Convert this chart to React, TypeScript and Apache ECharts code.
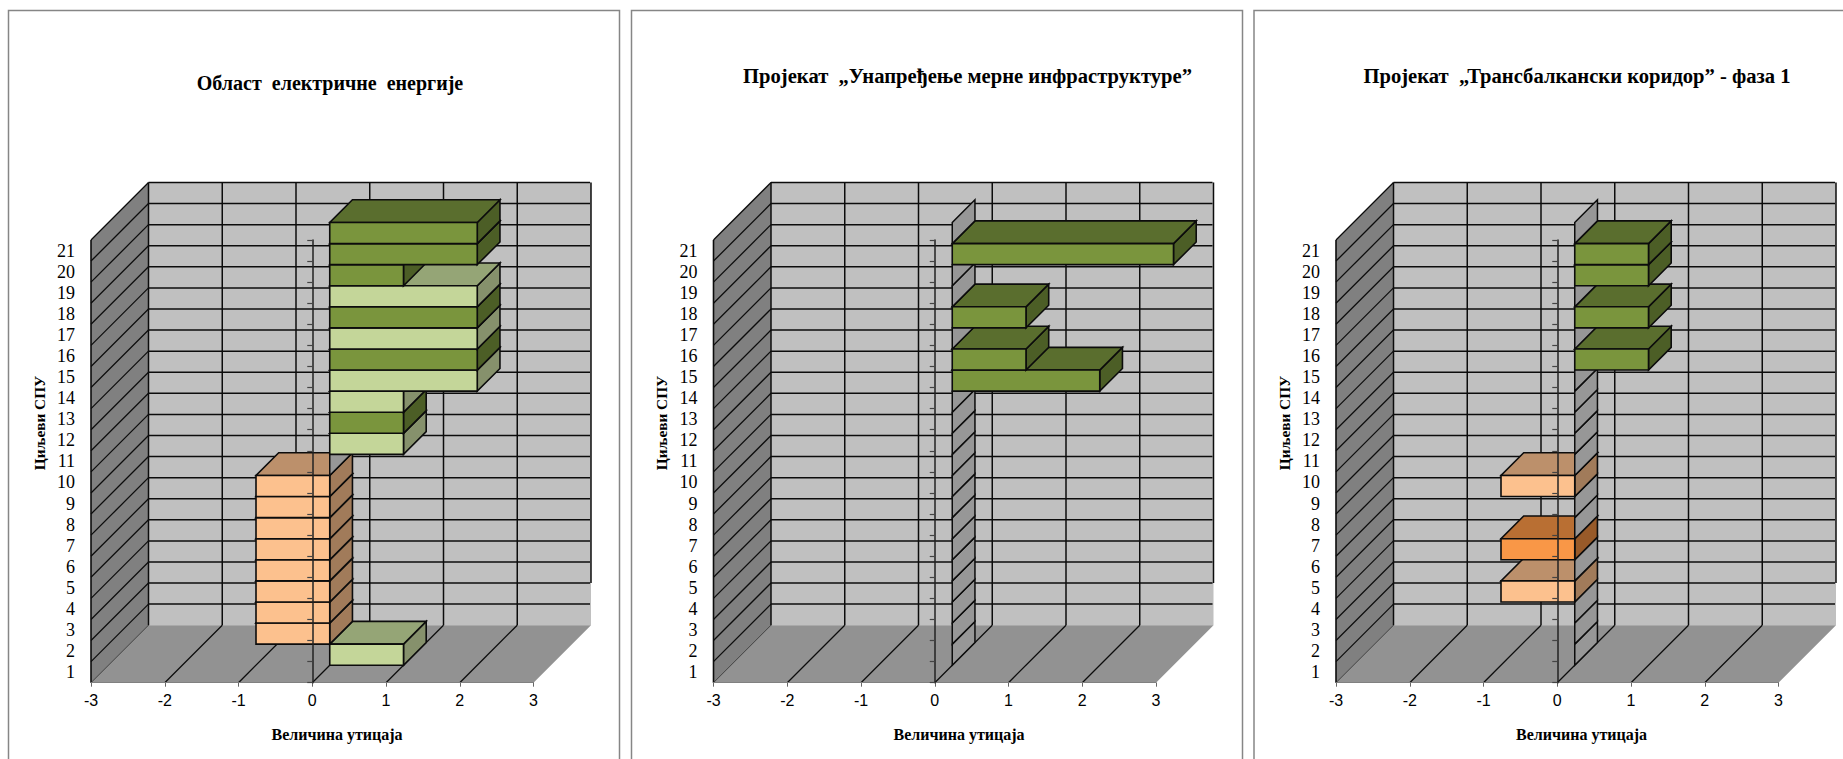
import React, { useEffect, useRef } from "react";
import * as echarts from "echarts";

// Category labels of the vertical axis, bottom to top.
const categories = ["1","2","3","4","5","6","7","8","9","10","11","12","13","14","15","16","17","18","19","20","21"];
const xTicks = [-3, -2, -1, 0, 1, 2, 3];

const panelTitles = [
  "Област  електричне  енергије",
  "Пројекат  „Унапређење мерне инфраструктуре”",
  "Пројекат  „Трансбалкански коридор” - фаза 1",
];
const xAxisTitle = "Величина утицаја";
const yAxisTitle = "Циљеви СПУ";

// Impact per goal, goal 1 first.
const electricityValues = [1,-1,-1,-1,-1,-1,-1,-1,-1,0,1,1,1,2,2,2,2,2,1,2,2];
const meteringValues    = [0,0,0,0,0,0,0,0,0,0,0,0,0,2,1,0,1,0,0,3,0];
const corridorValues    = [0,0,0,-1,0,-1,0,0,-1,0,0,0,0,0,1,0,1,0,1,1,0];

// Shade of each bar: d dark green, l light green, o light orange, s strong orange, z no impact.
const electricityTones = ["l","o","o","o","o","o","o","o","o","z","l","d","l","l","d","l","d","l","d","d","d"];
const meteringTones    = ["z","z","z","z","z","z","z","z","z","z","z","z","z","d","d","z","d","z","z","d","z"];
const corridorTones    = ["z","z","z","o","z","s","z","z","o","z","z","z","z","z","d","z","d","z","d","d","z"];

const PANELS = [
  { values: electricityValues, tones: electricityTones },
  { values: meteringValues, tones: meteringTones },
  { values: corridorValues, tones: corridorTones },
];

const SHADES: Record<string, { front: string; top: string; side: string }> = {
  d: { front: "#7a953d", top: "#5a6e2e", side: "#4c5e26" },
  l: { front: "#c4d699", top: "#95a576", side: "#86916c" },
  o: { front: "#fcc18e", top: "#bc906b", side: "#a17b5a" },
  s: { front: "#f99747", top: "#b96f33", side: "#985a29" },
};
const ZERO_FILL = "#979797";
const BACK_WALL = "#c0c0c0";
const SIDE_WALL = "#808080";
const FLOOR = "#929292";
const INK = "#0c0c0c";

// Oblique projection of the chart box, in pixels.
const WALL_DEPTH = 57.5;
const BAR_OFFSET = 17.5;
const BAR_DEPTH = 22.7;

const GRID_LEFTS = [91, 713.5, 1336];
const GRID_TOP = 240;
const GRID_W = 442.5;
const GRID_H = 442.7;
const FRAME_LEFTS = [8.5, 631.5, 1254];
const FRAME_RIGHTS = [619.5, 1242.5, 1870];
const TITLE_CENTERS = [330, 967.5, 1577];
const TITLE_Y = [84.5, 77.5, 77.5];
const TITLE_SIZES = [20, 20.6, 20.6];
const X_TITLE_CENTERS = [337, 959, 1581.5];

const edgeY = (api: any, i: number) => {
  const band = api.size([0, 1])[1];
  return api.coord([0, 0])[1] + band / 2 - i * band;
};

const line = (x1: number, y1: number, x2: number, y2: number, stroke = INK, lineWidth = 1.5) => ({
  type: "line",
  shape: { x1, y1, x2, y2 },
  style: { stroke, lineWidth },
  silent: true,
});

const poly = (points: number[][], fill: string, stroke?: string, lineWidth = 1.6) => ({
  type: "polygon",
  shape: { points },
  style: { fill, stroke: stroke ?? "none", lineWidth, lineJoin: "miter" },
  silent: true,
});

// Side wall, back wall, floor and their grid lines.
const renderBox = (_: any, api: any) => {
  const d = WALL_DEPTH;
  const yB = edgeY(api, 0);
  const yT = edgeY(api, categories.length);
  const xL = api.coord([xTicks[0], 0])[0];
  const xR = api.coord([xTicks[xTicks.length - 1], 0])[0];
  const children: any[] = [
    poly([[xL + d, yT - d], [xR + d, yT - d], [xR + d, yB - d], [xL + d, yB - d]], BACK_WALL),
    poly([[xL, yT], [xL + d, yT - d], [xL + d, yB - d], [xL, yB]], SIDE_WALL),
    poly([[xL, yB], [xR, yB], [xR + d, yB - d], [xL + d, yB - d]], FLOOR),
  ];
  for (let i = 1; i <= categories.length; i++) {
    const y = edgeY(api, i);
    children.push(line(xL + d, y - d, xR + d - 1, y - d));
    children.push(line(xL, y, xL + d, y - d, INK, 1.3));
  }
  xTicks.slice(0, -1).forEach((t) => {
    const x = api.coord([t, 0])[0];
    children.push(line(x + d, yT - d, x + d, yB - d));
    children.push(line(x, yB, x + d, yB - d, t === xTicks[0] ? "#3a3a3a" : INK, t === xTicks[0] ? 1 : 1.3));
  });
  children.push(line(xL, yT, xL, yB, INK, 1.6));
  children.push(line(xR + d, yT - d, xR + d, edgeY(api, 2) - d));
  return { type: "group", children };
};

// One block per goal; blocks with no impact show only their side face.
const makeBarRenderer = (tones: string[]) => (params: any, api: any) => {
  const value = api.value(0);
  const index = api.value(1);
  const o = BAR_OFFSET;
  const d = BAR_DEPTH;
  const x0 = api.coord([0, index])[0] + o;
  const xV = api.coord([value, index])[0] + o;
  const yB = edgeY(api, index) - o;
  const yT = edgeY(api, index + 1) - o;
  const xLeft = Math.min(x0, xV);
  const xRight = Math.max(x0, xV);
  const tone = tones[params.dataIndex];
  const side = [[xRight, yT], [xRight + d, yT - d], [xRight + d, yB - d], [xRight, yB]];
  if (tone === "z") {
    return { type: "group", children: [poly(side, ZERO_FILL, INK, 1.5)] };
  }
  const shade = SHADES[tone];
  return {
    type: "group",
    children: [
      poly(side, shade.side, INK),
      poly([[xLeft, yT], [xRight, yT], [xRight + d, yT - d], [xLeft + d, yT - d]], shade.top, INK),
      poly([[xLeft, yT], [xRight, yT], [xRight, yB], [xLeft, yB]], shade.front, INK),
    ],
  };
};

const buildOption = () => {
  const grid: any[] = [];
  const xAxis: any[] = [];
  const yAxis: any[] = [];
  const series: any[] = [];
  const title: any[] = [];
  const graphic: any[] = [];

  PANELS.forEach((panel, k) => {
    grid.push({ left: GRID_LEFTS[k], top: GRID_TOP, width: GRID_W, height: GRID_H, outerBoundsMode: "none", containLabel: false });
    xAxis.push({
      type: "value",
      gridIndex: k,
      min: xTicks[0],
      max: xTicks[xTicks.length - 1],
      interval: 1,
      z: 4,
      splitLine: { show: false },
      axisLine: { show: true, onZero: false, lineStyle: { color: "#808080", width: 1 } },
      axisTick: { show: true, length: 4, lineStyle: { color: "#666666" } },
      axisLabel: { show: true, margin: 10, color: "#000000", fontFamily: "Liberation Sans", fontSize: 16, showMinLabel: true, showMaxLabel: true, hideOverlap: false },
    });
    // Labelled axis along the side wall.
    yAxis.push({
      type: "category",
      gridIndex: k,
      data: categories,
      position: "left",
      boundaryGap: true,
      axisLine: { show: false, onZero: false },
      axisTick: { show: false },
      splitLine: { show: false },
      axisLabel: { show: true, interval: 0, margin: 16, color: "#000000", fontFamily: "Liberation Serif", fontSize: 18, hideOverlap: false },
    });
    // Tick line standing on zero, in front of the blocks.
    yAxis.push({
      type: "category",
      gridIndex: k,
      data: categories,
      position: "left",
      boundaryGap: true,
      z: 6,
      axisLine: { show: true, onZero: true, lineStyle: { color: "#222222", width: 1.5 } },
      axisTick: { show: true, interval: 0, length: 5, lineStyle: { color: "#444444", width: 1.2 } },
      axisLabel: { show: false },
      splitLine: { show: false },
    });
    series.push({
      type: "custom",
      xAxisIndex: k,
      yAxisIndex: 2 * k,
      z: 1,
      silent: true,
      encode: { x: 0, y: 1 },
      data: [[0, 0]],
      renderItem: renderBox,
    });
    series.push({
      type: "custom",
      xAxisIndex: k,
      yAxisIndex: 2 * k,
      z: 2,
      silent: true,
      encode: { x: 0, y: 1 },
      data: panel.values.map((v, i) => [v, i]),
      renderItem: makeBarRenderer(panel.tones),
    });

    title.push({
      text: panelTitles[k],
      left: TITLE_CENTERS[k],
      top: TITLE_Y[k] - 12,
      textAlign: "center",
      padding: 0,
      textStyle: { fontFamily: "Liberation Serif", fontWeight: "bold", fontSize: TITLE_SIZES[k], color: "#000000" },
    });
    graphic.push({
      type: "rect",
      silent: true,
      shape: { x: FRAME_LEFTS[k], y: 10.5, width: FRAME_RIGHTS[k] - FRAME_LEFTS[k], height: 800 },
      style: { fill: "none", stroke: "#868686", lineWidth: 1.5 },
    });
    graphic.push({
      type: "text",
      silent: true,
      x: X_TITLE_CENTERS[k],
      y: 734,
      style: { text: xAxisTitle, font: 'bold 16px "Liberation Serif"', fill: "#000000", textAlign: "center", textVerticalAlign: "middle" },
    });
    graphic.push({
      type: "text",
      silent: true,
      x: GRID_LEFTS[k] - 52,
      y: 423,
      rotation: Math.PI / 2,
      style: { text: yAxisTitle, font: 'bold 15.3px "Liberation Serif"', fill: "#000000", textAlign: "center", textVerticalAlign: "middle" },
    });
  });

  return { animation: false, backgroundColor: "#ffffff", grid, xAxis, yAxis, series, title, graphic };
};

export default function App() {
  const ref = useRef<HTMLDivElement>(null);
  useEffect(() => {
    const chart = echarts.init(ref.current!, undefined, { renderer: "svg" });
    chart.setOption(buildOption() as any);
    return () => chart.dispose();
  }, []);
  return <div ref={ref} style={{ position: "absolute", left: 0, top: 0, width: 1843, height: 759 }} />;
}
